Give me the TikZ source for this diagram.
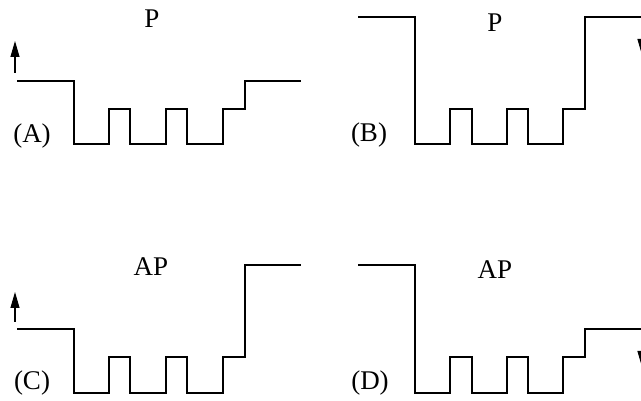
\documentclass[tikz,border=0pt]{standalone}
\usepackage{fontspec}
\setmainfont{Liberation Serif}
\usetikzlibrary{arrows.meta}
\begin{document}
\begin{tikzpicture}[x=1pt,y=-1pt,
  wave/.style={line width=1.1pt,line join=miter},
  lbl/.style={inner sep=0pt,font=\fontsize{27}{27}\selectfont},
  spin/.style={line width=1.1pt,-{Triangle[length=16pt,width=9pt]}}]
\useasboundingbox (0,0) rectangle (641,401);
\clip (0,0) rectangle (641,401);
% Panel A
\draw[wave] (17,81) -| (74,144) -| (109,109) -| (130,144) -| (166,109) -| (187,144) -| (223,109) -| (245,81) -- (301,81);
\draw[spin] (15,73) -- (15,41);
\node[lbl] (pA) at (152,19) {P};
\node[lbl] (lA) at (32,136) {(A)};
% Panel B
\draw[wave] (358,17) -| (415,144) -| (450,109) -| (472,144) -| (507,109) -| (528,144) -| (563,109) -| (585,17) -- (645,17);
\draw[spin] (642,25) -- (642,55);
\node[lbl] (pB) at (495,23) {P};
\node[lbl] (lB) at (369,135) {(B)};
% Panel C
\draw[wave] (17,329) -| (74,393) -| (109,357) -| (130,393) -| (166,357) -| (187,393) -| (223,357) -| (245,265) -- (301,265);
\draw[spin] (15,322) -- (15,292);
\node[lbl] (pC) at (151,267) {AP};
\node[lbl] (lC) at (32,383) {(C)};
% Panel D
\draw[wave] (358,265) -| (415,393) -| (450,357) -| (472,393) -| (507,357) -| (528,393) -| (563,357) -| (585,329) -- (645,329);
\draw[spin] (642,337) -- (642,367);
\node[lbl] (pD) at (495,270) {AP};
\node[lbl] (lD) at (370,383) {(D)};
\end{tikzpicture}
\end{document}
